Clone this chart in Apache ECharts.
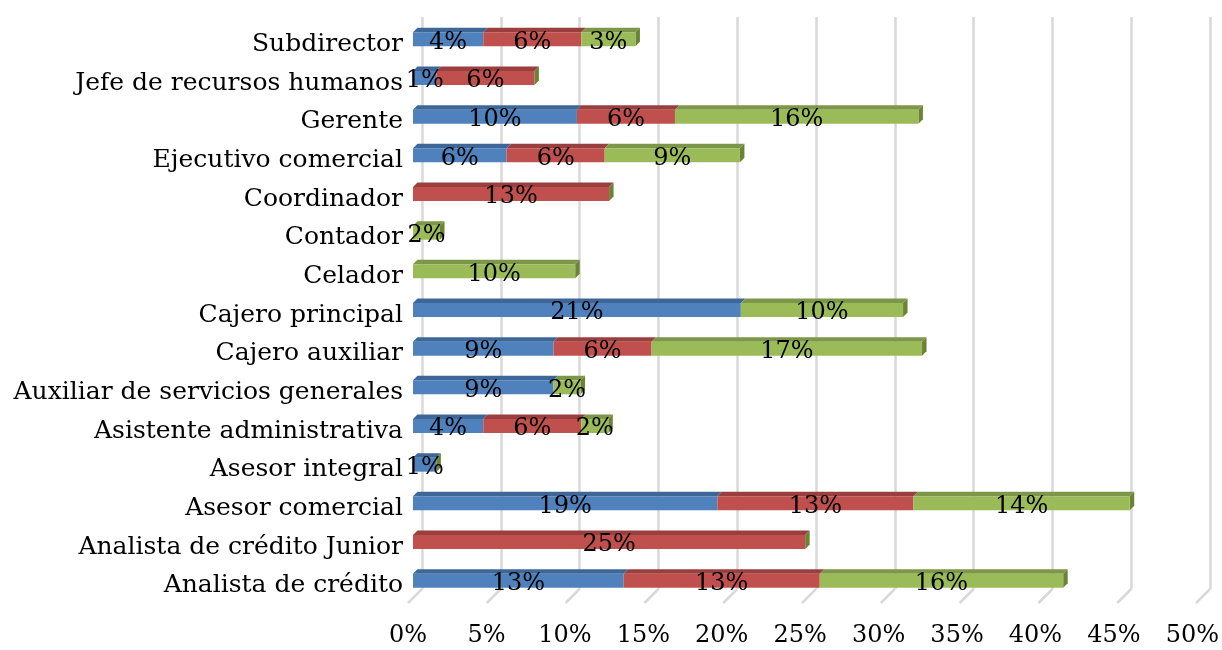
<!DOCTYPE html>
<html>
<head>
<meta charset="utf-8">
<script src="https://cdn.jsdelivr.net/npm/echarts@6/dist/echarts.min.js"></script>
<style>
  html, body { margin: 0; padding: 0; background: #fff; }
  #chart { width: 1222px; height: 650px; }
</style>
</head>
<body>
<div id="chart"></div>
<script>
// categories, bottom to top
const categories = [
  'Analista de crédito', 'Analista de crédito Junior', 'Asesor comercial',
  'Asesor integral', 'Asistente administrativa', 'Auxiliar de servicios generales',
  'Cajero auxiliar', 'Cajero principal', 'Celador', 'Contador', 'Coordinador',
  'Ejecutivo comercial', 'Gerente', 'Jefe de recursos humanos', 'Subdirector'
]
const seriesNames = ['Serie1', 'Serie2', 'Serie3']
// percentages
const blueValues = [13.43, null, 19.40, 1.49, 4.48, 8.96, 8.96, 20.90, null, null, null, 5.97, 10.45, 1.49, 4.48]
const redValues = [12.5, 25.0, 12.5, null, 6.25, null, 6.25, null, null, null, 12.5, 6.25, 6.25, 6.25, 6.25]
const greenValues = [15.52, null, 13.79, null, 1.72, 1.72, 17.24, 10.34, 10.34, 1.72, null, 8.62, 15.52, null, 3.45]
const xTicks = [0, 5, 10, 15, 20, 25, 30, 35, 40, 45, 50]

const frontColors = ['#4f81bd', '#c0504d', '#9bbb59']
const topColors = ['#3e6799', '#9a3f3d', '#7c9747']
const sideColor = '#6a8436'
const FONT = 'DejaVu Serif'
const FONT_SIZE = 24
const BAR_H = 14
const DEPTH = 4.5

const allValues = [blueValues, redValues, greenValues]

// top faces of every segment, plus end face of each stack
const topFaces = []
const endFaces = []
categories.forEach((c, i) => {
  let acc = 0
  allValues.forEach((vals, s) => {
    const v = vals[i] || 0
    if (v > 0) topFaces.push([acc, acc + v, i, s])
    acc += v
  })
  endFaces.push([acc, i])
})

const chart = echarts.init(document.getElementById('chart'))

const barSeries = allValues.map((vals, s) => ({
  name: seriesNames[s],
  type: 'bar',
  stack: 'total',
  xAxisIndex: 0,
  yAxisIndex: 0,
  barWidth: BAR_H,
  z: 3,
  data: vals,
  itemStyle: { color: frontColors[s] },
  label: {
    show: true,
    position: 'inside',
    offset: [0, 3],
    color: '#000',
    fontFamily: FONT,
    fontSize: FONT_SIZE,
    formatter: p => (p.value == null ? '' : Math.round(p.value) + '%')
  }
}))

chart.setOption({
  animation: false,
  grid: [
    { left: 413, right: 21, top: 20, bottom: 50 },
    { left: 422, right: 12, top: 17, bottom: 61 }
  ],
  xAxis: [
    {
      type: 'value', gridIndex: 0, min: 0, max: 50, interval: 5,
      axisLine: { show: false }, axisTick: { show: false },
      splitLine: { show: false },
      axisLabel: {
        formatter: '{value}%', color: '#000', fontFamily: FONT, fontSize: FONT_SIZE,
        margin: 24, padding: [0, 10, 0, 0]
      }
    },
    {
      type: 'value', gridIndex: 1, min: 0, max: 50, interval: 5,
      axisLine: { show: false }, axisTick: { show: false }, axisLabel: { show: false },
      splitLine: { show: true, lineStyle: { color: '#d9d9d9', width: 2.5 } }
    }
  ],
  yAxis: [
    {
      type: 'category', gridIndex: 0, data: categories,
      axisLine: { show: false }, axisTick: { show: false },
      axisLabel: {
        color: '#000', fontFamily: FONT, fontSize: 25, margin: 10,
        verticalAlign: 'top', lineHeight: 10
      }
    },
    {
      type: 'value', gridIndex: 1, min: 0, max: 1, show: false
    }
  ],
  series: [
    // floor lines of the back wall
    {
      type: 'custom', xAxisIndex: 1, yAxisIndex: 1, z: 1, silent: true,
      data: xTicks.map(v => [v, 0]),
      renderItem: (params, api) => {
        const p = api.coord([api.value(0), 0])
        return {
          type: 'line',
          shape: { x1: p[0], y1: p[1], x2: p[0] - 14, y2: p[1] + 14 },
          style: { stroke: '#d9d9d9', lineWidth: 2.5 }
        }
      }
    },
    // top faces
    {
      type: 'custom', xAxisIndex: 0, yAxisIndex: 0, z: 2, silent: true,
      data: topFaces,
      encode: { x: [0, 1], y: 2 },
      renderItem: (params, api) => {
        const a = api.coord([api.value(0), api.value(2)])
        const b = api.coord([api.value(1), api.value(2)])
        const y = a[1] - BAR_H / 2
        return {
          type: 'polygon',
          shape: { points: [[a[0], y], [b[0], y], [b[0] + DEPTH, y - DEPTH], [a[0] + DEPTH, y - DEPTH]] },
          style: { fill: topColors[api.value(3)] }
        }
      }
    },
    // end faces
    {
      type: 'custom', xAxisIndex: 0, yAxisIndex: 0, z: 2, silent: true,
      data: endFaces,
      encode: { x: 0, y: 1 },
      renderItem: (params, api) => {
        const p = api.coord([api.value(0), api.value(1)])
        const y = p[1] - BAR_H / 2
        return {
          type: 'polygon',
          shape: { points: [[p[0], y], [p[0] + DEPTH, y - DEPTH], [p[0] + DEPTH, y + BAR_H - DEPTH], [p[0], y + BAR_H]] },
          style: { fill: sideColor }
        }
      }
    }
  ].concat(barSeries)
})
</script>
</body>
</html>
